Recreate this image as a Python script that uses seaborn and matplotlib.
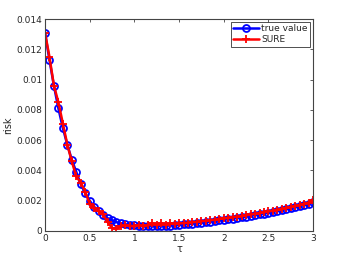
import numpy as np
import pandas as pd
import matplotlib
matplotlib.use('Agg')
import matplotlib.pyplot as plt
import seaborn as sns

# tau grid (0 to 3, step 0.05)
tau = np.round(np.linspace(0, 3, 61), 2)

true_value = [
    0.0131, 0.0113, 0.0096, 0.0081, 0.0068, 0.0057, 0.0047, 0.0039, 0.0031, 0.0025,
    0.0020, 0.0016, 0.0013, 0.00105, 0.00085, 0.0007, 0.00058, 0.0005, 0.00044, 0.0004,
    0.00037, 0.00035, 0.00033, 0.00032, 0.00032, 0.00032, 0.00033, 0.00034, 0.00036, 0.00038,
    0.0004, 0.00043, 0.00046, 0.00049, 0.00052, 0.00055, 0.00059, 0.00062, 0.00066, 0.0007,
    0.00074, 0.00078, 0.00082, 0.00086, 0.0009, 0.00095, 0.001, 0.00105, 0.0011, 0.00115,
    0.0012, 0.00126, 0.00132, 0.00138, 0.00144, 0.0015, 0.00157, 0.00164, 0.00171, 0.00178,
    0.0019,
]

sure = [
    0.0131, 0.0115, 0.0096, 0.0085, 0.0071, 0.0057, 0.0046, 0.0036, 0.0032, 0.0026,
    0.0018, 0.0015, 0.0013, 0.0011, 0.0006, 0.0002, 0.00015, 0.0003, 0.0004, 0.00035,
    0.0003, 0.0004, 0.0003, 0.0004, 0.0005, 0.0004, 0.0005, 0.0004, 0.0005, 0.00045,
    0.0005, 0.00052, 0.00055, 0.00058, 0.00061, 0.00064, 0.00068, 0.00071, 0.00075, 0.00079,
    0.00083, 0.00087, 0.00091, 0.00095, 0.00099, 0.00104, 0.00109, 0.00114, 0.00119, 0.00124,
    0.00129, 0.00135, 0.00141, 0.00147, 0.00153, 0.00159, 0.00166, 0.00173, 0.0018, 0.00188,
    0.00203,
]

sns.set_style('white')
plt.rcParams['font.family'] = ['DejaVu Sans']
plt.rcParams['xtick.direction'] = 'in'
plt.rcParams['ytick.direction'] = 'in'

fig = plt.figure(figsize=(3.46, 2.61), dpi=100)
ax = fig.add_axes([0.130, 0.115, 0.775, 0.812])

sns.lineplot(x=tau, y=true_value, ax=ax, color='blue', linewidth=1.8,
             marker='o', markersize=5, markerfacecolor='none',
             markeredgecolor='blue', markeredgewidth=1.3, label='true value')
sns.lineplot(x=tau, y=sure, ax=ax, color='red', linewidth=1.8,
             marker='+', markersize=5.5, markeredgecolor='red',
             markeredgewidth=1.3, label='SURE')

ax.set_xlim(0, 3)
ax.set_ylim(0, 0.014)
ax.set_xticks([0, 0.5, 1, 1.5, 2, 2.5, 3])
ax.set_xticklabels(['0', '0.5', '1', '1.5', '2', '2.5', '3'])
ax.set_yticks(np.arange(0, 0.0141, 0.002))
ax.set_yticklabels(['0', '0.002', '0.004', '0.006', '0.008', '0.01', '0.012', '0.014'])
ax.tick_params(axis='both', labelsize=6.5, length=2.5, width=0.6, color='#444444',
               top=True, right=True, pad=2)
for s in ax.spines.values():
    s.set_linewidth(0.8)
    s.set_color('#444444')

ax.set_xlabel('τ', fontsize=7, labelpad=1)
ax.set_ylabel('risk', fontsize=7, labelpad=2)

leg = ax.legend(loc='upper right', fontsize=6.5, frameon=True, fancybox=False,
                borderpad=0.3, handlelength=2.8, handletextpad=0.3,
                labelspacing=0.2, borderaxespad=0.3)
leg.get_frame().set_edgecolor('black')
leg.get_frame().set_linewidth(0.6)

fig.savefig('out.png', dpi=100)
